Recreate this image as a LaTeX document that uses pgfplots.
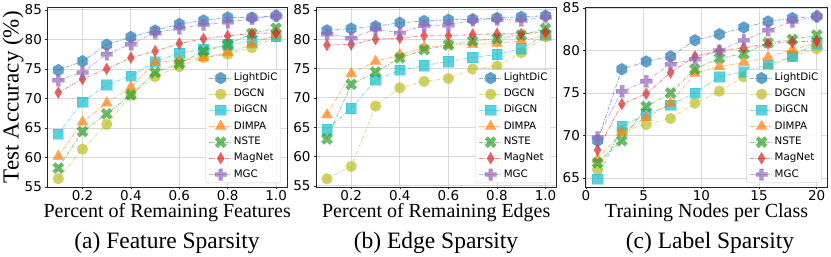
\documentclass[border=0pt]{standalone}
\usepackage{fontspec}
\setmainfont{Liberation Serif}
\newfontfamily\dejavu{DejaVu Sans}
\usepackage{pgfplots}
\pgfplotsset{compat=1.18}

\definecolor{cLD}{HTML}{1F77B4}
\definecolor{cDG}{HTML}{BCBD22}
\definecolor{cDi}{HTML}{17BECF}
\definecolor{cDM}{HTML}{FF7F0E}
\definecolor{cNS}{HTML}{2CA02C}
\definecolor{cMN}{HTML}{D62728}
\definecolor{cMG}{HTML}{9467BD}

\pgfdeclareplotmark{hexa}{%
 \pgfpathmoveto{\pgfpointpolar{90}{1.1\pgfplotmarksize}}%
 \pgfpathlineto{\pgfpointpolar{150}{1.1\pgfplotmarksize}}%
 \pgfpathlineto{\pgfpointpolar{210}{1.1\pgfplotmarksize}}%
 \pgfpathlineto{\pgfpointpolar{270}{1.1\pgfplotmarksize}}%
 \pgfpathlineto{\pgfpointpolar{330}{1.1\pgfplotmarksize}}%
 \pgfpathlineto{\pgfpointpolar{30}{1.1\pgfplotmarksize}}%
 \pgfpathclose\pgfusepathqfillstroke}
\pgfdeclareplotmark{thind}{%
 \pgfpathmoveto{\pgfpoint{0pt}{1.1\pgfplotmarksize}}%
 \pgfpathlineto{\pgfpoint{0.66\pgfplotmarksize}{0pt}}%
 \pgfpathlineto{\pgfpoint{0pt}{-1.1\pgfplotmarksize}}%
 \pgfpathlineto{\pgfpoint{-0.66\pgfplotmarksize}{0pt}}%
 \pgfpathclose\pgfusepathqfillstroke}
\pgfdeclareplotmark{fplus}{%
 \pgfpathmoveto{\pgfpoint{0.333\pgfplotmarksize}{\pgfplotmarksize}}%
 \pgfpathlineto{\pgfpoint{0.333\pgfplotmarksize}{0.333\pgfplotmarksize}}%
 \pgfpathlineto{\pgfpoint{\pgfplotmarksize}{0.333\pgfplotmarksize}}%
 \pgfpathlineto{\pgfpoint{\pgfplotmarksize}{-0.333\pgfplotmarksize}}%
 \pgfpathlineto{\pgfpoint{0.333\pgfplotmarksize}{-0.333\pgfplotmarksize}}%
 \pgfpathlineto{\pgfpoint{0.333\pgfplotmarksize}{-\pgfplotmarksize}}%
 \pgfpathlineto{\pgfpoint{-0.333\pgfplotmarksize}{-\pgfplotmarksize}}%
 \pgfpathlineto{\pgfpoint{-0.333\pgfplotmarksize}{-0.333\pgfplotmarksize}}%
 \pgfpathlineto{\pgfpoint{-\pgfplotmarksize}{-0.333\pgfplotmarksize}}%
 \pgfpathlineto{\pgfpoint{-\pgfplotmarksize}{0.333\pgfplotmarksize}}%
 \pgfpathlineto{\pgfpoint{-0.333\pgfplotmarksize}{0.333\pgfplotmarksize}}%
 \pgfpathlineto{\pgfpoint{-0.333\pgfplotmarksize}{\pgfplotmarksize}}%
 \pgfpathclose\pgfusepathqfillstroke}
\pgfdeclareplotmark{fx}{%
 \pgfpathmoveto{\pgfpoint{-0.471\pgfplotmarksize}{0.943\pgfplotmarksize}}%
 \pgfpathlineto{\pgfpoint{0pt}{0.471\pgfplotmarksize}}%
 \pgfpathlineto{\pgfpoint{0.471\pgfplotmarksize}{0.943\pgfplotmarksize}}%
 \pgfpathlineto{\pgfpoint{0.943\pgfplotmarksize}{0.471\pgfplotmarksize}}%
 \pgfpathlineto{\pgfpoint{0.471\pgfplotmarksize}{0pt}}%
 \pgfpathlineto{\pgfpoint{0.943\pgfplotmarksize}{-0.471\pgfplotmarksize}}%
 \pgfpathlineto{\pgfpoint{0.471\pgfplotmarksize}{-0.943\pgfplotmarksize}}%
 \pgfpathlineto{\pgfpoint{0pt}{-0.471\pgfplotmarksize}}%
 \pgfpathlineto{\pgfpoint{-0.471\pgfplotmarksize}{-0.943\pgfplotmarksize}}%
 \pgfpathlineto{\pgfpoint{-0.943\pgfplotmarksize}{-0.471\pgfplotmarksize}}%
 \pgfpathlineto{\pgfpoint{-0.471\pgfplotmarksize}{0pt}}%
 \pgfpathlineto{\pgfpoint{-0.943\pgfplotmarksize}{0.471\pgfplotmarksize}}%
 \pgfpathclose\pgfusepathqfillstroke}

\pgfplotsset{
 s/.style={line width=0.8pt, dash pattern=on 4pt off 1.5pt on 1pt off 1.5pt, draw opacity=0.55, mark size=5.5pt,
   mark options={solid, fill opacity=0.7, draw opacity=0.35, line width=0.3pt}},
 sLD/.style={s, color=cLD, mark=hexa},
 sDG/.style={s, color=cDG, mark=*},
 sDi/.style={s, color=cDi, mark=square*, mark size=5.2pt},
 sDM/.style={s, color=cDM, mark=triangle*, mark size=6.5pt},
 sNS/.style={s, color=cNS, mark=fx, mark size=6pt},
 sMN/.style={s, color=cMN, mark=thind},
 sMG/.style={s, color=cMG, mark=fplus, mark size=5.8pt},
 common/.style={
  scale only axis, height=179.5pt, anchor=south west,
  grid=major, grid style={black!15, line width=0.8pt},
  axis line style={black!85, line width=0.6pt},
  tick align=outside, major tick length=2pt, tick style={black!85, line width=0.6pt},
  tick pos=left,
  ticklabel style={font=\dejavu\fontsize{13.5}{14}\selectfont},
  xticklabel style={inner ysep=1.5pt},
  /pgf/number format/assume math mode=true,
  xlabel style={font=\fontsize{20}{22}\selectfont, inner sep=0pt, at={(axis description cs:0.5,-0.172)}, anchor=base},
  ylabel style={font=\fontsize{23}{25}\selectfont, inner sep=0pt},
  legend cell align=left,
  legend style={anchor=south east, draw=black!20, rounded corners=2pt, fill=white, fill opacity=0.85, text opacity=1,
    font=\dejavu\fontsize{10.3}{11}\selectfont, row sep=4.4pt, inner sep=2.5pt,
    nodes={inner sep=0.8pt, text height=7.5pt, text depth=2.2pt}},
  legend image code/.code={\draw[mark repeat=2,mark phase=2,##1] plot coordinates {(0cm,0cm) (0.42cm,0cm) (0.84cm,0cm)};},
 },
}

\begin{document}
\begin{tikzpicture}[x=1pt,y=1pt]
\useasboundingbox (0,0) rectangle (831,257);

% (a) Feature sparsity
\begin{axis}[common, at={(47.4pt,70pt)}, width=239.6pt,
  xmin=0.055, xmax=1.045, ymin=55, ymax=85.4,
  xtick={0.2,0.4,0.6,0.8,1.0}, xticklabels={0.2,0.4,0.6,0.8,1.0},
  ytick={55,60,65,70,75,80,85},
  xlabel={Percent of Remaining Features},
  ylabel={Test Accuracy (\%)},
  ylabel style={at={(axis description cs:-0.143,0.5)}, anchor=center},
  legend style={at={(axis description cs:0.975,0.022)}}]
\addplot[sLD] coordinates {(0.1,74.8)(0.2,76.3)(0.3,79.1)(0.4,80.4)(0.5,81.5)(0.6,82.6)(0.7,83.2)(0.8,83.7)(0.9,83.7)(1.0,84.0)};
\addplot[sDG] coordinates {(0.1,56.4)(0.2,61.4)(0.3,65.6)(0.4,70.6)(0.5,73.7)(0.6,75.4)(0.7,76.9)(0.8,77.5)(0.9,78.6)(1.0,80.4)};
\addplot[sDi] coordinates {(0.1,64.0)(0.2,69.4)(0.3,72.3)(0.4,73.8)(0.5,76.2)(0.6,77.7)(0.7,78.3)(0.8,79.1)(0.9,79.7)(1.0,80.5)};
\addplot[sDM] coordinates {(0.1,60.2)(0.2,66.0)(0.3,69.2)(0.4,71.9)(0.5,76.1)(0.6,76.4)(0.7,76.9)(0.8,77.7)(0.9,79.1)(1.0,80.8)};
\addplot[sNS] coordinates {(0.1,58.2)(0.2,64.4)(0.3,67.4)(0.4,70.6)(0.5,74.4)(0.6,75.9)(0.7,78.0)(0.8,79.1)(0.9,81.0)(1.0,81.9)};
\addplot[sMN] coordinates {(0.1,71.0)(0.2,73.3)(0.3,75.0)(0.4,76.9)(0.5,78.0)(0.6,79.3)(0.7,80.1)(0.8,80.6)(0.9,81.0)(1.0,81.1)};
\addplot[sMG] coordinates {(0.1,73.1)(0.2,74.4)(0.3,77.5)(0.4,79.2)(0.5,81.1)(0.6,81.9)(0.7,82.5)(0.8,82.9)(0.9,83.5)(1.0,84.0)};
\legend{LightDiC,DGCN,DiGCN,DIMPA,NSTE,MagNet,MGC}
\end{axis}

% (b) Edge sparsity
\begin{axis}[common, at={(316pt,70pt)}, width=240.5pt,
  xmin=0.055, xmax=1.045, ymin=54.8, ymax=85.4,
  xtick={0.2,0.4,0.6,0.8,1.0}, xticklabels={0.2,0.4,0.6,0.8,1.0},
  ytick={55,60,65,70,75,80,85},
  xlabel={Percent of Remaining Edges},
  legend style={at={(axis description cs:0.977,0.022)}}]
\addplot[sLD] coordinates {(0.1,81.5)(0.2,81.8)(0.3,82.2)(0.4,82.8)(0.5,83.1)(0.6,83.3)(0.7,83.4)(0.8,83.6)(0.9,83.8)(1.0,84.0)};
\addplot[sDG] coordinates {(0.1,56.2)(0.2,58.3)(0.3,68.6)(0.4,71.7)(0.5,72.8)(0.6,73.3)(0.7,74.9)(0.8,75.4)(0.9,77.7)(1.0,80.4)};
\addplot[sDi] coordinates {(0.1,64.6)(0.2,68.2)(0.3,73.0)(0.4,74.7)(0.5,75.5)(0.6,76.2)(0.7,76.9)(0.8,77.4)(0.9,78.4)(1.0,80.7)};
\addplot[sDM] coordinates {(0.1,67.1)(0.2,74.1)(0.3,76.2)(0.4,77.3)(0.5,78.6)(0.6,79.0)(0.7,79.1)(0.8,79.3)(0.9,79.7)(1.0,80.7)};
\addplot[sNS] coordinates {(0.1,63.0)(0.2,72.3)(0.3,74.4)(0.4,76.8)(0.5,78.2)(0.6,79.0)(0.7,79.7)(0.8,80.1)(0.9,80.7)(1.0,81.8)};
\addplot[sMN] coordinates {(0.1,79.0)(0.2,79.1)(0.3,80.0)(0.4,80.2)(0.5,80.6)(0.6,80.6)(0.7,80.8)(0.8,80.9)(0.9,80.9)(1.0,81.2)};
\addplot[sMG] coordinates {(0.1,80.9)(0.2,80.2)(0.3,81.7)(0.4,81.1)(0.5,82.3)(0.6,82.4)(0.7,83.2)(0.8,83.4)(0.9,83.2)(1.0,83.8)};
\legend{LightDiC,DGCN,DiGCN,DIMPA,NSTE,MagNet,MGC}
\end{axis}

% (c) Label sparsity
\begin{axis}[common, at={(585.4pt,70pt)}, width=242.3pt,
  xmin=-0.05, xmax=20.95, ymin=63.95, ymax=85.05,
  xtick={0,5,10,15,20}, ytick={65,70,75,80,85},
  xlabel={Training Nodes per Class},
  legend style={at={(axis description cs:0.976,0.022)}}]
\addplot[sLD] coordinates {(1,69.4)(3.11,77.8)(5.22,78.7)(7.33,79.3)(9.44,81.2)(11.56,81.9)(13.67,82.7)(15.78,83.4)(17.89,83.8)(20,84.0)};
\addplot[sDG] coordinates {(1,66.0)(3.11,70.5)(5.22,71.3)(7.33,72.0)(9.44,73.8)(11.56,75.2)(13.67,76.9)(15.78,78.0)(17.89,79.3)(20,80.2)};
\addplot[sDi] coordinates {(1,64.9)(3.11,71.1)(5.22,72.5)(7.33,73.6)(9.44,75.0)(11.56,76.9)(13.67,77.5)(15.78,78.3)(17.89,79.3)(20,80.8)};
\addplot[sDM] coordinates {(1,67.2)(3.11,70.4)(5.22,72.1)(7.33,73.8)(9.44,77.3)(11.56,78.1)(13.67,78.6)(15.78,79.2)(17.89,80.1)(20,80.9)};
\addplot[sNS] coordinates {(1,66.8)(3.11,69.4)(5.22,73.4)(7.33,75.0)(9.44,77.8)(11.56,79.1)(13.67,79.6)(15.78,80.9)(17.89,81.3)(20,81.8)};
\addplot[sMN] coordinates {(1,68.3)(3.11,73.7)(5.22,74.9)(7.33,77.4)(9.44,79.3)(11.56,80.0)(13.67,80.3)(15.78,80.8)(17.89,81.0)(20,81.1)};
\addplot[sMG] coordinates {(1,69.8)(3.11,75.2)(5.22,76.4)(7.33,78.4)(9.44,79.0)(11.56,80.0)(13.67,81.2)(15.78,82.4)(17.89,83.4)(20,84.0)};
\legend{LightDiC,DGCN,DiGCN,DIMPA,NSTE,MagNet,MGC}
\end{axis}

\node[font=\fontsize{23.5}{25}\selectfont, inner sep=0pt] at (167,14) {(a) Feature Sparsity};
\node[font=\fontsize{23.5}{25}\selectfont, inner sep=0pt] at (436,14) {(b) Edge Sparsity};
\node[font=\fontsize{23.5}{25}\selectfont, inner sep=0pt] at (710,14) {(c) Label Sparsity};
\end{tikzpicture}
\end{document}
